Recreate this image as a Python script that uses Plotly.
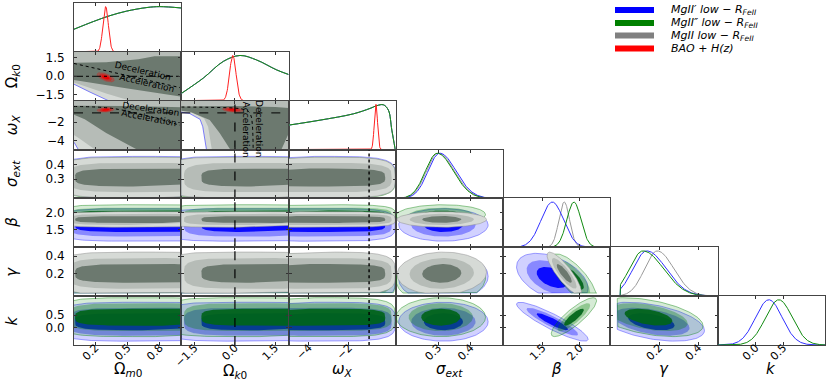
import numpy as np
import plotly.graph_objects as go
from plotly.subplots import make_subplots

# parameters: Om0, Ok0, wX, sigma_ext, beta, gamma, k
labels = ["Ω<sub><i>m</i>0</sub>", "Ω<sub><i>k</i>0</sub>", "<i>ω<sub>X</sub></i>",
          "<i>σ<sub>ext</sub></i>", "<i>β</i>", "<i>γ</i>", "<i>k</i>"]
ranges = [[0.0, 1.0], [-2.0, 2.0], [-5.0, 0.33], [0.17, 0.5], [0.97, 2.41], [-0.05, 0.5], [-0.68, 1.25]]
tick_vals = [[0.2, 0.5, 0.8], [-1.5, 0.0, 1.5], [-4, -2], [0.3, 0.4], [1.5, 2.0], [0.2, 0.4], [0.0, 0.5]]
tick_text = [["0.2", "0.5", "0.8"], ["−1.5", "0.0", "1.5"], ["−4", "−2"], ["0.3", "0.4"],
             ["1.5", "2.0"], ["0.2", "0.4"], ["0.0", "0.5"]]

legend_names = ["<i>MgII′ low − R<sub>FeII</sub></i>", "<i>MgII″ low − R<sub>FeII</sub></i>",
                "<i>MgII low − R<sub>FeII</sub></i>", "<i>BAO + H(z)</i>"]

# 1D marginals of the cosmological parameters (MgII samples, nearly identical)
om_x = [0.0, 0.18, 0.335, 0.49, 0.68, 0.80, 1.0]
om_p = [0.50, 0.67, 0.80, 0.90, 0.98, 1.0, 0.97]
ok_x = [-2.0, -1.18, -0.43, 0.19, 0.81, 1.56, 2.0]
ok_p = [0.16, 0.50, 0.87, 1.0, 0.90, 0.68, 0.58]
wx_x = [-5.0, -3.44, -1.78, -0.95, -0.62, -0.29, -0.04, 0.13, 0.30]
wx_p = [0.54, 0.65, 0.79, 0.91, 0.97, 0.99, 0.87, 0.43, 0.0]

# BAO + H(z): mean / sigma for Om0, Ok0, wX
bao_mean = [0.295, -0.08, -0.66]
bao_sig = [0.025, 0.12, 0.08]
bao_rho = {(0, 1): -0.6, (0, 2): 0.2, (1, 2): -0.3}

# nuisance posteriors, per sample [MgII', MgII'', MgII]: mode, left sigma, right sigma
sext_mode = [0.305, 0.297, 0.300]
sext_lo = [0.036, 0.036, 0.036]
sext_hi = [0.050, 0.050, 0.050]
beta_mode = [1.63, 1.92, 1.79]
beta_lo = [0.15, 0.095, 0.072]
beta_hi = [0.15, 0.095, 0.072]
gamma_mode = [0.136, 0.117, 0.19]
gamma_lo = [0.07, 0.07, 0.065]
gamma_hi = [0.10, 0.105, 0.085]
k_mode = [0.24, 0.42, None]
k_lo = [0.24, 0.24, None]
k_hi = [0.24, 0.24, None]

# correlation coefficients between nuisance parameters
rho = {(3, 4): [0.0, 0.05, 0.0], (3, 5): [0.05, 0.05, 0.05], (3, 6): [0.0, 0.0, None],
       (4, 5): [-0.45, -0.75, -0.85], (4, 6): [-0.9, 0.85, None], (5, 6): [-0.45, -0.45, None]}

# extent of the confidence bands along the cosmological axes [outer, mid, core]
band_lo = [[-0.15, -0.06, 0.01], [-2.7, -1.9, -1.25], [-7.0, -7.0, -7.0]]
band_hi = [[1.4, 1.4, 1.4], [3.5, 3.5, 3.5], [0.3, 0.12, -0.2]]

# gray confidence regions in the cosmology-cosmology planes [outer, mid, core]
om_ok_regions = [
    [[-0.1, 1.1, 1.1, 0.37, 0.15, 0.0, -0.1], [2.2, 2.2, -2.2, -2.2, -1.3, -0.65, -0.6]],
    [[-0.1, 1.1, 1.1, 0.6, 0.3, 0.0, -0.1], [2.2, 2.2, -2.2, -2.2, -1.4, -0.5, -0.45]],
    [[-0.1, 0.3, 0.6, 0.75, 1.1, 1.1, 0.5, 0.0, -0.1], [1.1, 1.15, 1.4, 1.65, 1.65, -1.8, -1.0, -0.3, -0.25]],
]
om_wx_regions = [
    [[-0.1, 1.1, 1.1, 0.05, 0.0, -0.1], [0.5, 0.5, -5.2, -5.2, -4.2, -4.0]],
    [[-0.1, 1.1, 1.1, 0.22, 0.05, 0.0, -0.1], [0.5, 0.5, -5.2, -5.2, -3.8, -3.4, -3.2]],
    [[-0.1, 0.5, 1.1, 1.1, 0.62, 0.3, 0.1, 0.0, -0.1], [-0.2, -0.25, -0.4, -5.2, -5.2, -3.2, -1.7, -1.2, -1.1]],
]
ok_wx_regions = [
    [[-2.2, 2.2, 2.2, -1.05, -1.2, -1.3, -1.7, -2.2], [0.5, 0.5, -5.2, -5.2, -2.5, -1.7, -1.05, -0.85]],
    [[-2.2, 2.2, 2.2, -0.85, -1.0, -1.15, -1.6, -2.2], [0.5, 0.5, -5.2, -5.2, -2.5, -1.6, -0.95, -0.75]],
    [[-2.2, 0.0, 1.5, 2.2, 2.2, 1.7, -0.13, -0.57, -0.94, -1.68, -2.2],
     [-0.3, -0.25, -0.35, -0.5, -2.0, -5.2, -5.2, -3.2, -1.77, -0.87, -0.7]],
]

# acceleration / deceleration boundaries and reference values
decel_om_ok = [[0.0, 1.0], [1.05, -0.95]]
decel_om_wx = [[0.0, 0.35, 0.71, 1.0], [-0.3, -0.5, -1.4, -2.4]]
decel_ok_wx = [[-2.0, -1.0, 0.0, 0.3, 0.5, 0.6, 0.65, 0.68], [-0.36, -0.39, -0.48, -0.6, -0.83, -1.33, -2.3, -5.0]]
ok_ref = 0.0
wx_ref = -1.0

levels = [3.2, 2.3, 1.4]
fills = [["rgba(0,0,255,0.18)", "rgba(0,0,255,0.35)", "rgba(0,0,255,0.92)"],
         ["rgba(0,128,0,0.16)", "rgba(0,128,0,0.32)", "rgba(0,100,25,0.92)"],
         ["rgb(214,218,214)", "rgb(182,188,183)", "rgb(108,121,111)"]]
edge = ["rgba(60,60,255,0.8)", "rgba(0,128,0,0.7)", "rgba(140,140,140,0.8)"]
red_fills = ["rgba(255,0,0,0.25)", "rgba(255,0,0,0.45)", "rgb(235,0,0)"]
line_cols = ["#3030ff", "#108a10", "#9a9a9a", "#ff2020"]

n = 7
W, H = 831, 382
ML, MR, MT, MB = 74, 6, 3, 37
mode = {3: sext_mode, 4: beta_mode, 5: gamma_mode, 6: k_mode}
s_lo = {3: sext_lo, 4: beta_lo, 5: gamma_lo, 6: k_lo}
s_hi = {3: sext_hi, 4: beta_hi, 5: gamma_hi, 6: k_hi}
cos_x = [om_x, ok_x, wx_x]
cos_p = [om_p, ok_p, wx_p]


def px(x):
    return (x - ML) / (W - ML - MR)


def py(y):
    return 1 - (y - MT) / (H - MT - MB)


def center(p, s):
    return mode[p][s] + 0.8 * (s_hi[p][s] - s_lo[p][s])


def sig(p, s):
    return 0.5 * (s_lo[p][s] + s_hi[p][s])


def ellipse(mx, my, sx, sy, rr, r, npts=120):
    t = np.linspace(0, 2 * np.pi, npts)
    cov = np.array([[sx * sx, rr * sx * sy], [rr * sx * sy, sy * sy]])
    L = np.linalg.cholesky(cov)
    pts = L @ np.vstack([np.cos(t), np.sin(t)]) * r
    return mx + pts[0], my + pts[1]


def blob(cx, cy, ax, ay, p=4, npts=160):
    t = np.linspace(0, 2 * np.pi, npts)
    c, s = np.cos(t), np.sin(t)
    return cx + ax * np.sign(c) * np.abs(c) ** (2 / p), cy + ay * np.sign(s) * np.abs(s) ** (2 / p)


specs = [[{} if c <= r else None for c in range(n)] for r in range(n)]
fig = make_subplots(rows=n, cols=n, specs=specs, horizontal_spacing=0, vertical_spacing=0)


def add(tr, r, c):
    fig.add_trace(tr, row=r + 1, col=c + 1)


def area(x, y, fc, lc, r, c, lw=0.6):
    add(go.Scatter(x=x, y=y, fill="toself", fillcolor=fc, mode="lines",
                   line=dict(color=lc, width=lw), hoverinfo="skip", showlegend=False), r, c)


def curve(x, y, col, r, c, dash="solid", lw=1.0, shape="linear"):
    add(go.Scatter(x=x, y=y, mode="lines", line=dict(color=col, width=lw, dash=dash, shape=shape),
                   hoverinfo="skip", showlegend=False), r, c)


# ---- 1D marginals
for c in range(n):
    if c < 3:
        for s in [0, 2, 1]:
            curve(cos_x[c], cos_p[c], line_cols[s], c, c, shape="spline")
        g = np.linspace(ranges[c][0], ranges[c][1], 400)
        curve(g, np.exp(-0.5 * ((g - bao_mean[c]) / bao_sig[c]) ** 2), line_cols[3], c, c)
    else:
        g = np.linspace(ranges[c][0], ranges[c][1], 300)
        for s in [2, 0, 1]:
            if mode[c][s] is None:
                continue
            sd = np.where(g < mode[c][s], s_lo[c][s], s_hi[c][s])
            pdf = np.exp(-0.5 * ((g - mode[c][s]) / sd) ** 2)
            if c == 5:
                pdf = np.where(g < 0, 0, pdf)
            curve(g, pdf, line_cols[s], c, c)

# ---- cosmology vs cosmology
cosmo = {(1, 0): om_ok_regions, (2, 0): om_wx_regions, (2, 1): ok_wx_regions}
for (r, c), regs in cosmo.items():
    for li, (rx, ry) in enumerate(regs):
        area(rx, ry, fills[2][li], fills[2][li], r, c, lw=0)
    curve(regs[0][0] + [regs[0][0][0]], regs[0][1] + [regs[0][1][0]], edge[0], r, c, lw=0.8)
    for li, lev in enumerate(levels):
        x, y = ellipse(bao_mean[c], bao_mean[r], bao_sig[c], bao_sig[r], bao_rho[(c, r)], lev)
        area(x, y, red_fills[li], "rgba(255,0,0,0.5)", r, c, lw=0.4)

curve(decel_om_ok[0], decel_om_ok[1], "black", 1, 0, dash="dot")
curve([ranges[0][0], ranges[0][1]], [ok_ref, ok_ref], "black", 1, 0, dash="dashdot")
curve(decel_om_wx[0], decel_om_wx[1], "black", 2, 0, dash="dot", shape="spline")
curve([ranges[0][0], ranges[0][1]], [wx_ref, wx_ref], "black", 2, 0, dash="dash")
curve(decel_ok_wx[0], decel_ok_wx[1], "black", 2, 1, dash="dot", shape="spline")
curve([ranges[1][0], ranges[1][1]], [wx_ref, wx_ref], "black", 2, 1, dash="dash")

tfont = dict(family="DejaVu Sans", size=9, color="black")
for (r, c, x, y, t, a) in [(1, 0, 0.64, 0.40, "Deceleration", 13), (1, 0, 0.68, -0.55, "Acceleration", 13),
                           (2, 0, 0.71, -0.62, "Deceleration", 8), (2, 0, 0.70, -1.6, "Acceleration", 11),
                           (2, 1, 0.40, -2.8, "Acceleration", 90), (2, 1, 0.88, -2.7, "Deceleration", 90)]:
    fig.add_annotation(x=x, y=y, text=t, textangle=a, showarrow=False, font=tfont, row=r + 1, col=c + 1)

# ---- cosmology vs nuisance bands
for r in range(3, n):
    for c in range(3):
        for s in range(3):
            if mode[r][s] is None:
                continue
            cy, sy = center(r, s), sig(r, s)
            for li, lev in enumerate(levels):
                lo, hi = band_lo[c][li], band_hi[c][li]
                x, y = blob(0.5 * (lo + hi), cy, 0.5 * (hi - lo), lev * sy, p=4)
                if r == 5:
                    y = np.maximum(y, -0.015)
                area(x, y, fills[s][li], edge[s], r, c, lw=0.6 if li == 0 else 0)
        if c == 1:
            curve([ok_ref, ok_ref], ranges[r], "black", r, c, dash="dash", lw=1.2)
        if c == 2:
            curve([wx_ref, wx_ref], ranges[r], "black", r, c, dash="dot", lw=1.4)
curve([ok_ref, ok_ref], ranges[2], "black", 2, 1, dash="dash", lw=1.2)

# ---- nuisance vs nuisance ellipses
for r in range(4, n):
    for c in range(3, r):
        for s in range(3):
            if rho[(c, r)][s] is None:
                continue
            for li, lev in enumerate(levels):
                x, y = ellipse(center(c, s), center(r, s), sig(c, s), sig(r, s), rho[(c, r)][s], lev)
                if r == 5:
                    y = np.maximum(y, -0.015)
                if c == 5:
                    x = np.maximum(x, -0.015)
                area(x, y, fills[s][li], edge[s], r, c, lw=0.6 if li == 0 else 0)

# ---- axes
font = dict(family="DejaVu Sans", size=12, color="black")
xfont = dict(family="DejaVu Sans", size=11, color="black")
for r in range(n):
    for c in range(r + 1):
        fig.update_xaxes(row=r + 1, col=c + 1, range=ranges[c], tickvals=tick_vals[c], ticktext=tick_text[c],
                         showticklabels=(r == n - 1), tickangle=-45, tickfont=xfont, ticklabelstandoff=-9,
                         ticks="inside", ticklen=3, tickcolor="#333", showline=True, linecolor="#444",
                         linewidth=1, mirror="ticks", showgrid=False, zeroline=False)
        if r == c:
            fig.update_yaxes(row=r + 1, col=c + 1, range=[0, 1.08], showticklabels=False, ticks="",
                             showline=True, linecolor="#444", linewidth=1, mirror=True,
                             showgrid=False, zeroline=False)
        else:
            fig.update_yaxes(row=r + 1, col=c + 1, range=ranges[r], tickvals=tick_vals[r], ticktext=tick_text[r],
                             showticklabels=(c == 0), tickfont=font, ticklabelstandoff=6,
                             ticks="inside", ticklen=3, tickcolor="#333", showline=True, linecolor="#444",
                             linewidth=1, mirror="ticks", showgrid=False, zeroline=False)

# axis titles placed by hand (bottom row and left column)
cw, rh = (W - ML - MR) / n, (H - MT - MB) / n
title_font = dict(family="DejaVu Sans", size=15, color="black")
for c in range(n):
    ty = 371 if c == 1 else 369
    fig.add_annotation(xref="paper", yref="paper", x=px(ML + (c + 0.5) * cw), y=py(ty), text=labels[c],
                       showarrow=False, xanchor="center", yanchor="middle", font=title_font)
for r in range(1, n):
    fig.add_annotation(xref="paper", yref="paper", x=px(12), y=py(MT + (r + 0.5) * rh), text=labels[r],
                       showarrow=False, xanchor="center", yanchor="middle", textangle=-90, font=title_font)

# ---- legend (drawn by hand, as in the original)
leg_y = [10, 23, 35.5, 48.5]
leg_col = ["#0000ff", "#008000", "#808080", "#ff0000"]
for i in range(4):
    fig.add_shape(type="rect", xref="paper", yref="paper", x0=px(615), x1=px(654),
                  y0=py(leg_y[i] + 3), y1=py(leg_y[i] - 3),
                  fillcolor=leg_col[i], line=dict(width=0))
    fig.add_annotation(xref="paper", yref="paper", x=px(669), y=py(leg_y[i]), text=legend_names[i],
                       showarrow=False, xanchor="left", yanchor="middle",
                       font=dict(family="DejaVu Sans", size=11, color="black"))

fig.update_layout(width=W, height=H, margin=dict(l=ML, r=MR, t=MT, b=MB),
                  paper_bgcolor="white", plot_bgcolor="white", showlegend=False)
# the page's default body margin would shift the figure by 8px
fig.write_html("out.html", config={"displayModeBar": False},
               post_script="document.body.style.margin='0';")
